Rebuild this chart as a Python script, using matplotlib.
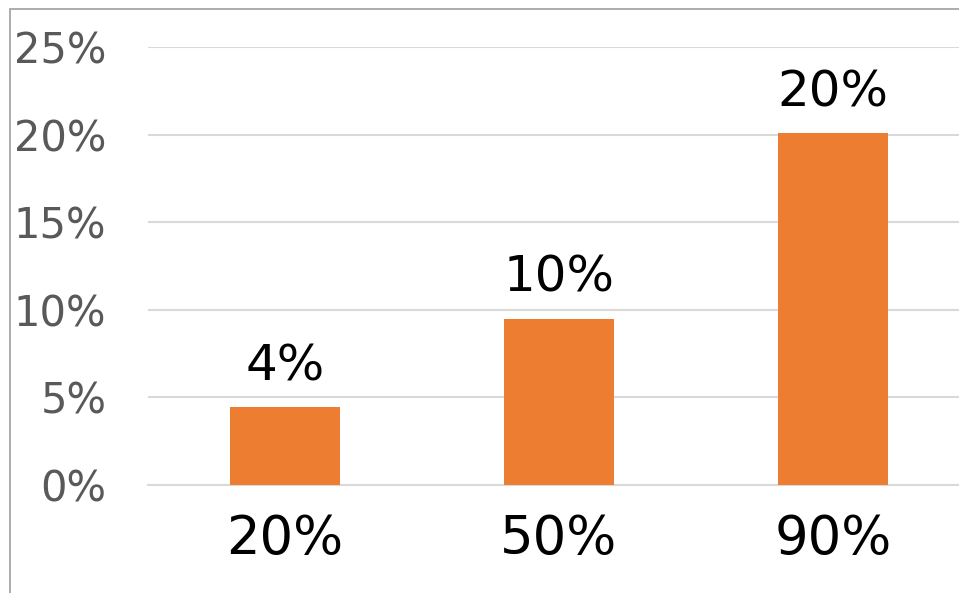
import matplotlib
matplotlib.use("Agg")
import matplotlib.pyplot as plt
from matplotlib.patches import Rectangle

categories = ["20%", "50%", "90%"]
values = [4.45, 9.5, 20.1]
data_labels = ["4%", "10%", "20%"]
yticks = [0, 5, 10, 15, 20, 25]
ytick_labels = ["0%", "5%", "10%", "15%", "20%", "25%"]

W, H, DPI = 959, 593, 100
fig = plt.figure(figsize=(W / DPI, H / DPI), dpi=DPI)
fig.patch.set_facecolor("white")

# outer chart border (left and top visible)
fig.add_artist(Rectangle((10 / W, -0.1), 1.2, 1.1 - 9 / H, transform=fig.transFigure,
                         fill=False, edgecolor="#a6a6a6", linewidth=1.3))

left, right = 148 / W, 970 / W
bottom, top = 1 - 485 / H, 1 - 47 / H
ax = fig.add_axes([left, bottom, right - left, top - bottom])
ax.set_facecolor("none")

x = list(range(len(categories)))
bars = ax.bar(x, values, width=0.405, color="#ED7D31", zorder=3)
ax.set_xlim(-0.5, len(categories) - 0.5)
ax.set_ylim(0, 25)
ax.set_yticks(yticks)
ax.set_yticklabels(ytick_labels)
ax.set_xticks(x)
ax.set_xticklabels(categories)

ax.grid(axis="y", color="#d9d9d9", linewidth=1.5, zorder=0)
for s in ["top", "right", "left"]:
    ax.spines[s].set_visible(False)
ax.spines["bottom"].set_color("#d9d9d9")
ax.spines["bottom"].set_linewidth(1.5)

ax.tick_params(axis="y", length=0, pad=30, labelsize=30, labelcolor="#595959")
ax.tick_params(axis="x", length=0, pad=20, labelsize=38, labelcolor="black")

for b, lab in zip(bars, data_labels):
    ax.annotate(lab, (b.get_x() + b.get_width() / 2, b.get_height()),
                xytext=(0, 12), textcoords="offset points",
                ha="center", va="bottom", fontsize=36, color="black")

fig.savefig("out.png", dpi=DPI)
